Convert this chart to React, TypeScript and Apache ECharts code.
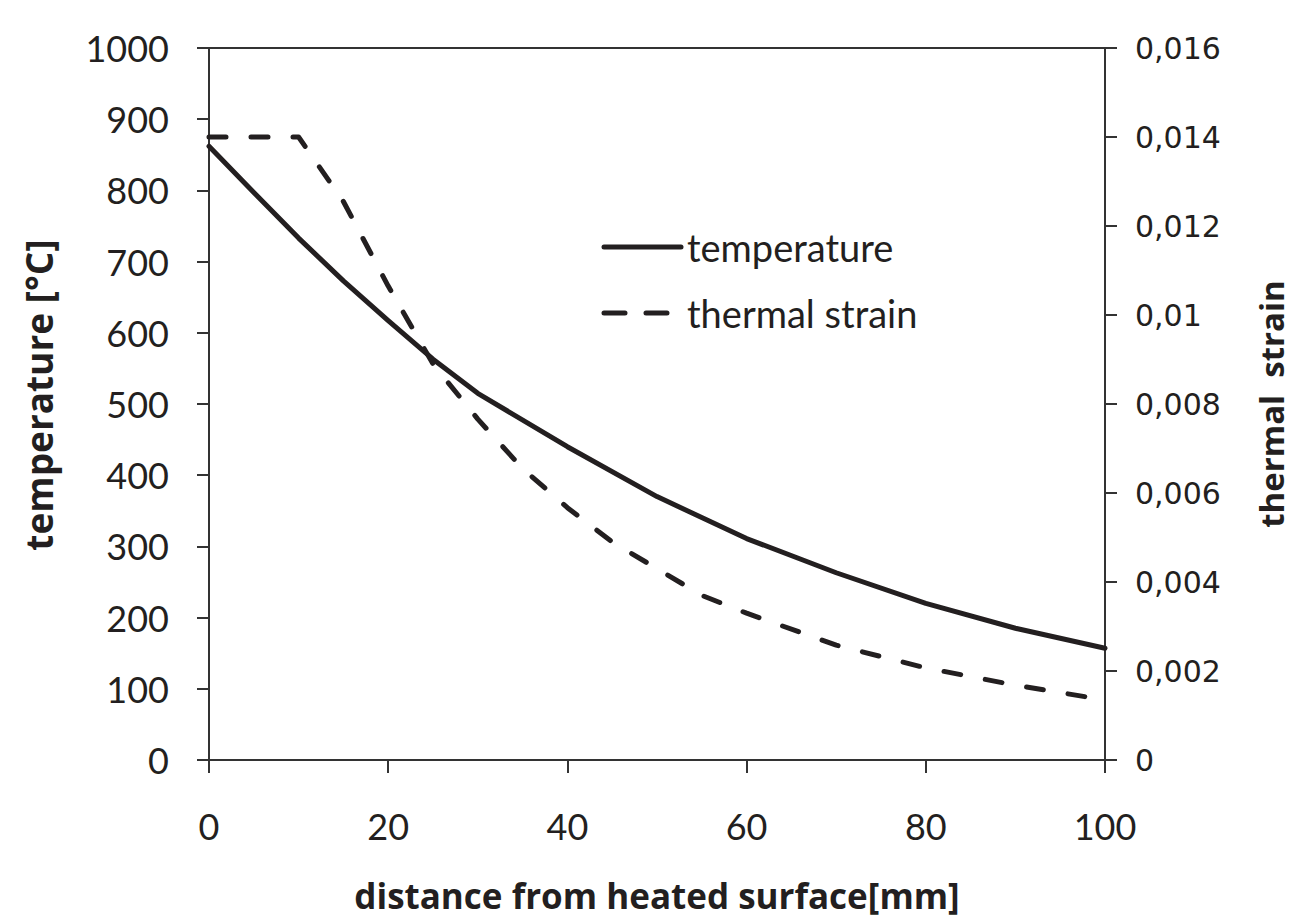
import React, { useEffect, useRef } from "react";
import * as echarts from "echarts";

const distance = [0, 5, 10, 15, 20, 25, 30, 40, 50, 60, 70, 80, 90, 100];
const temperature = [862, 797, 733, 673, 617, 563, 515, 440, 370, 311, 263, 220, 185, 157];
const strainX = [0, 10, 15, 20, 25, 30, 35, 40, 45, 50, 55, 60, 70, 80, 90, 100];
const strain = [0.014, 0.014, 0.01255, 0.01065, 0.0089, 0.00766, 0.00655, 0.00567, 0.0049, 0.0043, 0.0037, 0.0033, 0.00258, 0.00207, 0.00168, 0.00135];
const xTicks = { min: 0, max: 100, interval: 20 };
const tempTicks = { min: 0, max: 1000, interval: 100 };
const strainTicks = { min: 0, max: 0.016, interval: 0.002 };
const legendNames = ["temperature", "thermal strain"];

const INK = "#231f20";
const AXIS = "#333333";
const DASH = [17, 25];

export default function App() {
  const ref = useRef<HTMLDivElement>(null);
  useEffect(() => {
    document.body.style.margin = "0";
    document.body.style.overflow = "hidden";
    if (!ref.current) return;
    const chart = echarts.init(ref.current, undefined, { renderer: "svg" });
    chart.setOption({
      animation: false,
      backgroundColor: "#ffffff",
      grid: {
        left: 209,
        right: 185,
        top: 48,
        bottom: 163,
        show: true,
        borderColor: AXIS,
        borderWidth: 2,
        backgroundColor: "transparent",
      },
      graphic: [
        {
          type: "line",
          shape: { x1: 604, y1: 247, x2: 681, y2: 247 },
          style: { stroke: INK, lineWidth: 5, lineCap: "round" },
        },
        {
          type: "text",
          x: 687,
          y: 247,
          style: { text: legendNames[0], fontFamily: "Lato", fontSize: 38, fill: INK, textVerticalAlign: "middle", verticalAlign: "middle" },
        },
        {
          type: "line",
          shape: { x1: 604, y1: 313, x2: 672, y2: 313 },
          style: { stroke: INK, lineWidth: 5, lineCap: "round", lineDash: [21, 21] },
        },
        {
          type: "text",
          x: 687,
          y: 313,
          style: { text: legendNames[1], fontFamily: "Lato", fontSize: 38, fill: INK, textVerticalAlign: "middle", verticalAlign: "middle" },
        },
      ],
      xAxis: {
        type: "value",
        ...xTicks,
        name: "distance from heated surface[mm]",
        nameLocation: "middle",
        nameGap: 118,
        nameTextStyle: { fontFamily: "Open Sans", fontWeight: "bold", fontSize: 35, color: INK },
        axisLine: { show: true, lineStyle: { color: AXIS, width: 2 } },
        axisTick: { show: true, inside: false, length: 13, lineStyle: { color: AXIS, width: 2 } },
        axisLabel: { fontFamily: "Lato", fontSize: 36, color: INK, margin: 48, formatter: (v: number) => String(v) },
        splitLine: { show: false },
      },
      yAxis: [
        {
          type: "value",
          ...tempTicks,
          position: "left",
          name: "temperature [°C]",
          nameLocation: "middle",
          nameGap: 152,
          nameRotate: 90,
          nameTextStyle: { fontFamily: "Open Sans", fontWeight: "bold", fontSize: 37, color: INK, padding: [0, 0, 0, 18] },
          axisLine: { show: true, lineStyle: { color: AXIS, width: 2 } },
          axisTick: { show: true, inside: false, length: 12, lineStyle: { color: AXIS, width: 2 } },
          axisLabel: { fontFamily: "Lato", fontSize: 36, color: INK, margin: 40, formatter: (v: number) => String(v) },
          splitLine: { show: false },
        },
        {
          type: "value",
          ...strainTicks,
          position: "right",
          name: "thermal  strain",
          nameLocation: "middle",
          nameGap: 150,
          nameRotate: 90,
          nameTextStyle: { fontFamily: "Open Sans", fontWeight: "bold", fontSize: 33, color: INK },
          axisLine: { show: true, lineStyle: { color: AXIS, width: 2 } },
          axisTick: { show: true, inside: false, length: 12, lineStyle: { color: AXIS, width: 2 } },
          axisLabel: {
            fontFamily: "DejaVu Sans",
            fontSize: 30,
            color: INK,
            margin: 30,
            formatter: (v: number) => (v === 0 ? "0" : String(+v.toFixed(3)).replace(".", ",")),
          },
          splitLine: { show: false },
        },
      ],
      series: [
        {
          name: "temperature",
          type: "line",
          yAxisIndex: 0,
          symbol: "none",
          data: distance.map((x, i) => [x, temperature[i]]),
          lineStyle: { color: INK, width: 5, cap: "round", join: "round" },
          itemStyle: { color: INK },
        },
        {
          name: "thermal strain",
          type: "line",
          yAxisIndex: 1,
          symbol: "none",
          data: strainX.map((x, i) => [x, strain[i]]),
          lineStyle: { color: INK, width: 5, type: DASH, cap: "round", join: "round" },
          itemStyle: { color: INK },
        },
      ],
    });
    return () => chart.dispose();
  }, []);
  return <div ref={ref} style={{ width: 1296, height: 923 }} />;
}
